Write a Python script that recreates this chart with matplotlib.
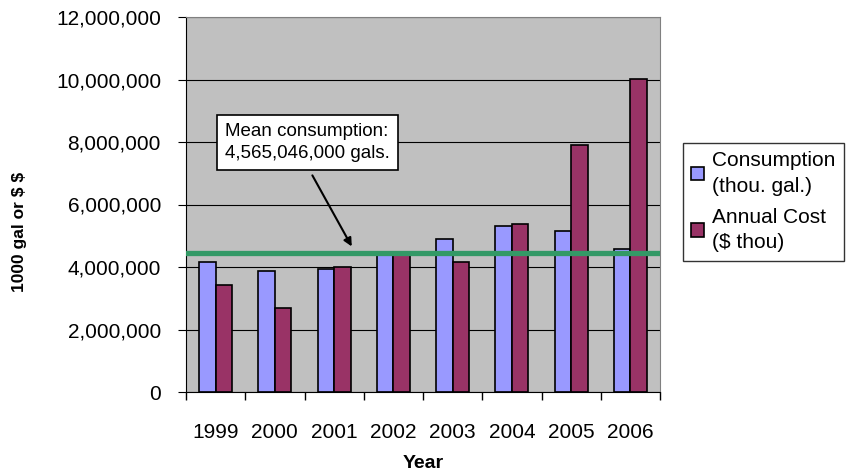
import matplotlib
matplotlib.use("agg")

import matplotlib.pyplot as plt
import numpy as np
from matplotlib.ticker import FuncFormatter, FixedLocator

plt.rcParams["font.family"] = ["Liberation Sans", "DejaVu Sans"]

years = ["1999", "2000", "2001", "2002", "2003", "2004", "2005", "2006"]
consumption = [4150000, 3880000, 3950000, 4400000, 4900000, 5310000, 5160000, 4590000]
annual_cost = [3410000, 2680000, 4010000, 4450000, 4150000, 5380000, 7910000, 10030000]
mean_line = 4450000
mean_text = "Mean consumption:\n4,565,046,000 gals."


def main():
    fig = plt.figure(figsize=(8.58, 4.75), dpi=100)
    ax = fig.add_axes([186 / 858, 83 / 475, 474 / 858, 375 / 475])
    ax.set_facecolor("#C0C0C0")

    xs = np.arange(len(years))
    w = 0.28
    ax.bar(xs - w / 2, consumption, w, color="#9999FF", edgecolor="black",
           linewidth=1.2, label="Consumption\n(thou. gal.)", zorder=2)
    ax.bar(xs + w / 2, annual_cost, w, color="#993366", edgecolor="black",
           linewidth=1.2, label="Annual Cost\n(\\$ thou)", zorder=2)

    ax.axhline(mean_line, color="#339966", linewidth=3.8, zorder=3)

    ax.set_xlim(-0.5, len(years) - 0.5)
    ax.set_ylim(0, 12000000)
    ax.set_yticks(np.arange(0, 12000001, 2000000))
    ax.yaxis.set_major_formatter(FuncFormatter(lambda v, p: f"{int(v):,}"))
    ax.yaxis.grid(True, color="black", linewidth=0.8, zorder=0)
    ax.set_axisbelow(True)

    ax.set_xticks(xs)
    ax.set_xticklabels(years)
    ax.xaxis.set_minor_locator(FixedLocator(np.arange(-0.5, len(years), 1.0)))
    ax.tick_params(axis="x", which="major", length=0, pad=22, labelsize=15)
    ax.tick_params(axis="x", which="minor", length=6, direction="out", width=1)
    ax.tick_params(axis="y", length=6, direction="out", pad=12, labelsize=15)

    for side in ["top", "right"]:
        ax.spines[side].set_color("#808080")
    for side in ["left", "bottom"]:
        ax.spines[side].set_color("black")

    ax.set_xlabel("Year", fontsize=14, fontweight="bold", va="top")
    ax.xaxis.set_label_coords(0.5, -0.168)
    fig.text(20 / 858, 1 - 232 / 475, "1000 gal or $ $", rotation=90,
             fontsize=12.5, fontweight="bold", ha="center", va="center",
             parse_math=False)

    ax.text(0.16, 7.98e6, mean_text, fontsize=13.5, ha="left", va="center",
            linespacing=1.4, zorder=5,
            bbox=dict(boxstyle="square,pad=0.42", facecolor="white",
                      edgecolor="black", linewidth=1.2))
    ax.annotate("", xy=(2.32, 4.58e6), xytext=(1.61, 7.01e6), zorder=5,
                arrowprops=dict(arrowstyle="-|>", color="black", lw=1.5,
                                mutation_scale=12))

    leg = ax.legend(loc="upper left", bbox_to_anchor=(1.0485, 0.664),
                    fontsize=15, frameon=True, fancybox=False,
                    handlelength=0.6, handleheight=0.6, handletextpad=0.4,
                    borderpad=0.4, labelspacing=0.55, borderaxespad=0)
    for t in leg.get_texts():
        t.set_linespacing(1.45)
    leg.get_frame().set_edgecolor("black")
    leg.get_frame().set_linewidth(1.0)

    fig.savefig("out.png", dpi=100)


if __name__ == "__main__":
    main()
